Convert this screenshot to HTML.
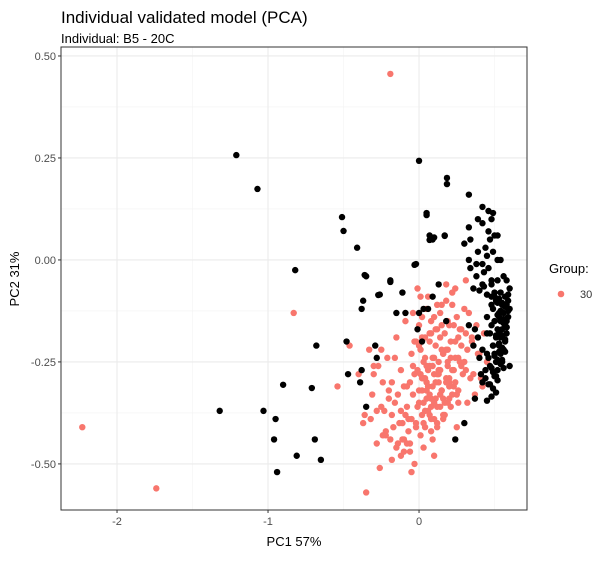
<!DOCTYPE html>
<html><head><meta charset="utf-8">
<style>
body{margin:0;background:#fff;font-family:"Liberation Sans",sans-serif;}
svg text{font-family:"Liberation Sans",sans-serif;}
</style></head>
<body>
<svg id="chart" width="609" height="557">
<defs><clipPath id="clip"><rect x="61" y="47" width="466" height="463"/></clipPath></defs>
<text x="61" y="23" font-size="17" fill="#000">Individual validated model (PCA)</text>
<text x="61" y="43" font-size="13" fill="#000">Individual: B5 - 20C</text>
<g id="grid"></g>
<g id="pts" clip-path="url(#clip)"></g>
<rect x="61" y="47" width="466" height="463" fill="none" stroke="#333" stroke-width="1"/>
<g id="axes"></g>
<text x="294" y="546" font-size="13" text-anchor="middle">PC1 57%</text>
<text transform="translate(19,279) rotate(-90)" font-size="13" text-anchor="middle">PC2 31%</text>
<g>
<text x="549" y="273" font-size="13">Group:</text>
<circle cx="561" cy="294" r="3.3" fill="#F8766D"/>
<text x="580" y="298" font-size="11" fill="#333">30</text>
</g>
</svg>
<script>
const xTicks=[-2,-1,0];
const yTicks=[0.5,0.25,0,-0.25,-0.5];
const yTickLabels=["0.50","0.25","0.00","-0.25","-0.50"];
const xMinor=[-1.5,-0.5,0.5];
const yMinor=[0.375,0.125,-0.125,-0.375];
const redX=[-2.23,-1.74,-0.83,-0.19,-0.46,-0.54,-0.35,-0.26,-0.05,-0.37,-0.32,-0.28,-0.22,-0.15,-0.10,-0.25,-0.18,-0.12,-0.30,-0.20,-0.08,0.02,0.05,0.10,0.15,-0.02,0.08,0.12,0.20,0.25,0.30,0.18,0.22,-0.05,0.00,0.04,0.07,0.11,0.14,0.17,0.21,0.26,0.28,0.32,0.35,-0.14,-0.10,-0.06,-0.03,0.03,0.06,0.09,0.13,0.16,0.19,0.24,0.27,0.31,-0.24,-0.20,-0.16,-0.12,-0.08,-0.04,0.00,0.05,0.09,0.13,0.18,0.23,0.29,0.34,-0.18,-0.13,-0.09,-0.05,-0.01,0.03,0.07,0.11,0.15,0.20,0.25,-0.22,-0.17,-0.11,-0.07,-0.02,0.02,0.06,0.10,0.14,0.19,-0.28,-0.24,-0.19,-0.14,-0.10,-0.06,0.01,0.04,0.08,0.12,0.16,-0.30,-0.25,-0.21,-0.15,-0.09,-0.04,0.00,0.05,0.10,0.15,0.02,0.08,0.14,0.22,0.28,0.33,0.38,0.40,0.36,-0.01,0.06,0.12,0.18,0.24,0.30,-0.06,0.10,0.16,0.04,-0.12,-0.08,-0.03,0.03,0.09,-0.18,0.20,0.26,0.32,0.37,0.43,0.45,0.41,0.42,-0.40,-0.33,-0.27,-0.36,-0.31,-0.23,-0.16,0.13,0.19,0.07,0.25,0.31,-0.11,0.01,0.06,
0.01,0.04,0.07,0.10,0.13,0.16,0.19,0.22,0.02,0.05,0.08,0.11,0.14,0.17,0.20,0.23,0.26,-0.01,0.03,0.06,0.09,0.12,0.15,0.18,0.21,0.24,0.00,0.04,0.08,0.12,0.16,0.20,0.24,0.28,-0.03,0.02,0.07,0.11,0.15,0.19,0.23,0.27,0.31,0.35,0.39,-0.07,-0.02,0.03,0.08,0.12,0.17,0.21,0.26,-0.04,0.01,0.05,0.10,0.14,0.18,0.22];
const redY=[-0.41,-0.56,-0.13,0.456,-0.21,-0.31,-0.57,-0.51,-0.52,-0.40,-0.39,-0.45,-0.43,-0.46,-0.44,-0.36,-0.30,-0.27,-0.28,-0.34,-0.31,-0.29,-0.26,-0.24,-0.22,-0.20,-0.18,-0.17,-0.16,-0.14,-0.12,-0.10,-0.08,-0.23,-0.21,-0.19,-0.20,-0.21,-0.19,-0.18,-0.20,-0.19,-0.21,-0.22,-0.20,-0.33,-0.31,-0.30,-0.28,-0.25,-0.27,-0.24,-0.25,-0.23,-0.26,-0.24,-0.25,-0.27,-0.30,-0.32,-0.35,-0.37,-0.36,-0.33,-0.32,-0.30,-0.31,-0.28,-0.29,-0.27,-0.28,-0.29,-0.38,-0.40,-0.38,-0.39,-0.36,-0.35,-0.33,-0.34,-0.32,-0.31,-0.33,-0.42,-0.41,-0.40,-0.42,-0.40,-0.38,-0.37,-0.39,-0.36,-0.35,-0.37,-0.43,-0.44,-0.45,-0.47,-0.45,-0.43,-0.41,-0.42,-0.40,-0.39,-0.26,-0.22,-0.24,-0.19,-0.15,-0.13,-0.16,-0.12,-0.14,-0.11,-0.14,-0.15,-0.13,-0.11,-0.17,-0.13,-0.16,-0.23,-0.28,-0.07,-0.09,-0.11,-0.06,-0.07,-0.25,-0.47,-0.48,-0.34,-0.29,-0.48,-0.45,-0.50,-0.46,-0.44,-0.49,-0.30,-0.32,-0.35,-0.33,-0.18,-0.25,-0.29,-0.31,-0.28,-0.22,-0.26,-0.38,-0.33,-0.37,-0.24,-0.27,-0.22,-0.38,-0.41,-0.05,-0.44,-0.09,-0.31,
-0.22,-0.24,-0.26,-0.28,-0.30,-0.23,-0.25,-0.27,-0.32,-0.34,-0.36,-0.30,-0.33,-0.35,-0.29,-0.31,-0.24,-0.27,-0.29,-0.31,-0.26,-0.28,-0.32,-0.22,-0.24,-0.20,-0.35,-0.37,-0.34,-0.36,-0.38,-0.34,-0.30,-0.26,-0.20,-0.19,-0.18,-0.17,-0.16,-0.15,-0.16,-0.17,-0.18,-0.19,-0.23,-0.39,-0.41,-0.40,-0.39,-0.41,-0.38,-0.36,-0.35,-0.26,-0.28,-0.32,-0.35,-0.27,-0.30,-0.33];
const blkX=[-1.21,-1.07,0.00,0.185,0.185,-0.51,-0.50,-0.82,0.05,0.07,0.17,-0.36,-0.19,-0.27,-0.03,-0.68,-0.90,-0.71,-0.48,-0.38,-0.28,-1.32,-1.03,-0.95,-0.96,-0.69,-0.81,-0.65,-0.94,0.30,0.24,0.37,-0.35,-0.39,-0.47,-0.29,0.02,-0.01,0.18,-0.15,-0.09,0.00,0.03,0.06,0.09,-0.11,-0.26,-0.38,-0.37,-0.19,-0.35,-0.02,0.13,0.10,-0.41,0.05,0.07,0.09,0.17,0.33,0.42,0.46,0.49,0.39,0.42,0.48,0.33,0.46,0.50,0.52,0.30,0.34,0.47,0.44,0.39,0.45,0.49,0.52,0.33,0.38,0.42,0.46,0.54,0.34,0.38,0.43,0.48,0.36,0.42,0.37,0.33,0.39,0.45,0.36,0.42,0.49,0.40,0.45,0.41,0.44,0.42,0.48,0.52,0.56,0.58,0.60,0.50,0.54,0.57,0.59,0.51,0.55,0.58,0.60,0.49,0.53,0.56,0.59,0.50,0.54,0.57,0.48,0.52,0.55,0.58,0.47,0.51,0.54,0.57,0.49,0.53,0.56,0.50,0.54,0.46,0.51,0.55,0.47,0.52,0.44,0.48,0.45,0.50,0.58,0.55,0.60,0.53,0.48,0.43,0.40,0.45,
0.53,0.55,0.57,0.59,0.52,0.54,0.56,0.58,0.53,0.55,0.57,0.59,0.52,0.54,0.56,0.58,0.51,0.53,0.55,0.57,0.50,0.52,0.54,0.56,0.49,0.51,0.53,0.55,0.48,0.50,0.52,0.47,0.49,0.51,0.46,0.48,0.45,0.47,0.44,0.46];
const blkY=[0.257,0.174,0.243,0.201,0.186,0.105,0.071,-0.025,0.115,0.049,0.059,-0.037,-0.054,-0.086,-0.012,-0.21,-0.306,-0.314,-0.20,-0.27,-0.24,-0.37,-0.37,-0.39,-0.44,-0.44,-0.48,-0.49,-0.52,-0.40,-0.44,-0.34,-0.36,-0.30,-0.28,-0.21,-0.20,-0.17,-0.15,-0.13,-0.13,-0.13,-0.12,-0.12,-0.09,-0.08,-0.085,-0.12,-0.10,-0.05,-0.04,-0.01,-0.06,0.055,0.03,0.11,0.06,0.05,0.06,0.16,0.13,0.12,0.115,0.10,0.09,0.10,0.08,0.07,0.06,0.06,0.04,0.05,0.05,0.03,0.02,0.01,0.02,0.00,0.00,-0.01,-0.01,-0.02,0.00,-0.02,-0.04,-0.03,-0.05,-0.07,-0.06,-0.17,-0.16,-0.19,-0.18,-0.21,-0.22,-0.21,-0.24,-0.23,-0.28,-0.27,-0.30,-0.06,-0.05,-0.04,-0.05,-0.07,-0.08,-0.08,-0.09,-0.10,-0.10,-0.11,-0.11,-0.12,-0.12,-0.13,-0.13,-0.14,-0.15,-0.15,-0.16,-0.16,-0.17,-0.17,-0.18,-0.18,-0.19,-0.19,-0.20,-0.21,-0.21,-0.22,-0.23,-0.23,-0.24,-0.25,-0.25,-0.26,-0.27,-0.29,-0.11,-0.14,-0.09,-0.15,-0.25,-0.26,-0.14,-0.09,
-0.065,-0.075,-0.085,-0.095,-0.105,-0.115,-0.125,-0.135,-0.145,-0.155,-0.165,-0.175,-0.185,-0.195,-0.085,-0.105,-0.125,-0.145,-0.165,-0.185,-0.205,-0.215,-0.225,-0.235,-0.245,-0.255,-0.265,-0.275,-0.285,-0.225,-0.245,-0.265,-0.285,-0.295,-0.305,-0.315,-0.325,-0.305,-0.335,-0.345];
const X0=-2.371,X1=0.715,Y0=-0.613,Y1=0.522;
const PL=61,PR=527,PT=47,PB=510;
const sx=v=>PL+(v-X0)/(X1-X0)*(PR-PL);
const sy=v=>PB-(v-Y0)/(Y1-Y0)*(PB-PT);
const NS="http://www.w3.org/2000/svg";
const grid=document.getElementById('grid'),axes=document.getElementById('axes'),pts=document.getElementById('pts');
function ln(p,x1,y1,x2,y2,c,w){const l=document.createElementNS(NS,'line');l.setAttribute('x1',x1);l.setAttribute('y1',y1);l.setAttribute('x2',x2);l.setAttribute('y2',y2);l.setAttribute('stroke',c);l.setAttribute('stroke-width',w);p.appendChild(l);return l;}
xMinor.forEach(v=>{const l=ln(grid,sx(v),PT,sx(v),PB,'#f3f3f3',0.6);

});
yMinor.forEach(v=>{const l=ln(grid,PL,sy(v),PR,sy(v),'#f3f3f3',0.6);

});
xTicks.forEach(v=>{const l=ln(grid,sx(v),PT,sx(v),PB,'#ebebeb',1.1);


const t=ln(axes,sx(v),PB,sx(v),PB+3,'#333',1);


const tx=document.createElementNS(NS,'text');tx.setAttribute('x',sx(v));tx.setAttribute('y',PB+15);tx.setAttribute('text-anchor','middle');tx.setAttribute('font-size','11');tx.setAttribute('fill','#4d4d4d');tx.textContent=String(v);


axes.appendChild(tx);});
yTicks.forEach((v,i)=>{const l=ln(grid,PL,sy(v),PR,sy(v),'#ebebeb',1.1);


const t=ln(axes,PL-3,sy(v),PL,sy(v),'#333',1);


const tx=document.createElementNS(NS,'text');tx.setAttribute('x',PL-5);tx.setAttribute('y',sy(v)+4);tx.setAttribute('text-anchor','end');tx.setAttribute('font-size','11');tx.setAttribute('fill','#4d4d4d');tx.textContent=yTickLabels[i];


axes.appendChild(tx);});
function dot(x,y,c){const d=document.createElementNS(NS,'circle');d.setAttribute('cx',sx(x));d.setAttribute('cy',sy(y));d.setAttribute('r',3.2);d.setAttribute('fill',c);pts.appendChild(d);return d;}
const nR=Math.min(redX.length,redY.length);
for(let i=0;i<nR;i++){const d=dot(redX[i],redY[i],'#F8766D');

}
const nB=Math.min(blkX.length,blkY.length);
for(let i=0;i<nB;i++){const d=dot(blkX[i],blkY[i],'#000');

}
</script>
</body></html>
